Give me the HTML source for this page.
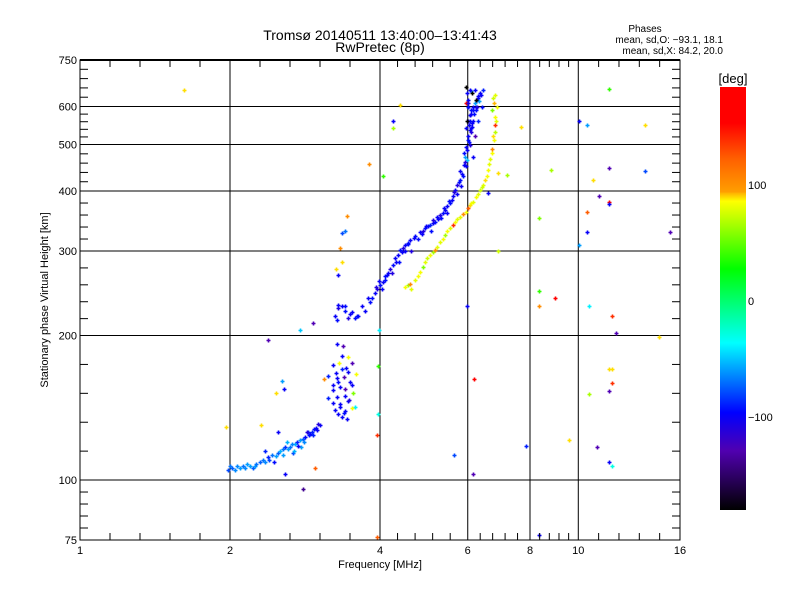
<!DOCTYPE html>
<html><head><meta charset="utf-8"><style>
html,body{margin:0;padding:0;background:#fff;}
svg{display:block;font-family:"Liberation Sans",sans-serif;}
</style></head><body>
<svg id="chart" width="800" height="600" viewBox="0 0 800 600" xmlns="http://www.w3.org/2000/svg">
<defs><linearGradient id="cb" x1="0" y1="0" x2="0" y2="1">
<stop offset="0" stop-color="#ff0000"/><stop offset="0.085" stop-color="#ff0000"/><stop offset="0.17" stop-color="#ff6000"/><stop offset="0.25" stop-color="#ffa000"/><stop offset="0.25" stop-color="#ffb000"/><stop offset="0.27" stop-color="#ffff00"/><stop offset="0.43" stop-color="#00ff00"/><stop offset="0.605" stop-color="#00ffff"/><stop offset="0.77" stop-color="#0000ff"/><stop offset="0.86" stop-color="#5000b0"/><stop offset="1" stop-color="#000000"/>
</linearGradient></defs>
<g id="grid"></g>
<g id="marks"></g>
<g id="axes"></g>
<text x="380" y="40" font-size="14" text-anchor="middle">Tromsø 20140511 13:40:00–13:41:43</text>
<text x="380" y="52" font-size="14" text-anchor="middle">RwPretec (8p)</text>
<text x="645" y="32" font-size="10" text-anchor="middle">Phases</text>
<text x="723" y="43" font-size="10" text-anchor="end">mean, sd,O: −93.1, 18.1</text>
<text x="723" y="54" font-size="10" text-anchor="end">mean, sd,X:  84.2, 20.0</text>
<text x="380" y="568" font-size="11" text-anchor="middle">Frequency [MHz]</text>
<text transform="translate(48,300) rotate(-90)" font-size="11" text-anchor="middle">Stationary phase Virtual Height [km]</text>
<rect x="720" y="87" width="26" height="423" fill="url(#cb)"/>
<text x="733" y="83" font-size="13" text-anchor="middle">[deg]</text>
<text x="748" y="189" font-size="11">100</text>
<text x="748" y="305" font-size="11">0</text>
<text x="748" y="421" font-size="11">−100</text>
</svg>
<script>
const xMajors=[1,2,4,6,8,10,16];
const xLabels=["1","2","4","6","8","10","16"];
const yMajors=[75,100,200,300,400,500,600,750];
const yLabels=["75","100","200","300","400","500","600","750"];
// E trace
const eFreq=[1.98,2.02,2.05,2.09,2.12,2.14,2.19,2.22,2.24,2.3,2.33,2.35,2.38,2.43,2.47,2.5,2.52,2.55,2.58,2.62,2.64,2.7,2.72,2.76,2.8,2.83,2.87,2.9,2.92,2.95,2.97,3.03,2.6,2.68,2.78,2.85,2.45,2.35,2.0,2.07,2.16,2.26,2.4,2.55,2.66,2.74,2.88,2.99,3.01,2.93,2.81,2.69];
const eHeight=[105,106,105,106,107,106,107,106,107,109,110,109,111.5,112.5,112,114,115,116,117,116,117,118.7,120,121,122,122.7,126,125,126,128,128.4,130,120,114,117,126,109,115,107,107,108,108,110,113,119,118,124,127,131,124,120,115];
const ePhase=[-80,-75,-65,-60,-70,-65,-60,-75,-60,-75,-70,-65,-90,-70,-60,-75,-55,-70,-85,-60,-70,-55,-90,-60,-75,-95,-85,-100,-90,-95,-100,-100,-55,-80,-60,-110,-95,-90,-70,-65,-60,-70,-80,-60,-65,-100,-95,-100,-110,-90,-65,-55];
// Es cluster
const sFreq=[3.28,3.37,3.45,3.36,3.22,3.31,3.51,3.58,3.45,3.39,3.28,3.14,3.09,3.22,3.51,3.33,3.4,3.22,3.14,3.53,3.28,3.45,3.22,3.33,3.56,3.25,3.4,3.51,3.36,3.3,3.42,3.35,3.48,3.3,3.4,3.47,3.32,3.38,3.44,3.26];
const sHeight=[192,190,180,181,174,175,175,166,168,164,163,165,162,158,158,156,155,154,148,152,149,146,145,142,142,140,139,141,135,137,171,170,160,160,150,147,144,138,134,167];
const sPhase=[-100,-130,90,-100,-100,90,-130,90,-100,-130,-100,-90,120,-100,-100,-100,-130,-100,-90,60,-100,-100,-100,-100,-40,-100,-100,90,-100,-100,-100,-90,-100,-95,-100,-110,-100,-95,-100,-100];
// O trace
const oFreq=[3.25,3.3,3.4,3.48,3.56,3.73,3.82,3.9,3.95,4.0,4.05,4.09,4.14,4.19,4.25,4.29,4.35,4.39,4.45,4.5,4.55,4.6,4.7,4.82,4.88,4.93,5.0,5.04,5.1,5.16,5.22,5.28,5.34,5.4,5.46,5.53,5.6,5.66,5.72,5.8,5.85,5.9,5.93,5.98,6.01,6.07,6.0,6.05,6.1,6.15,6.2,6.25,6.3,6.35,6.45,6.02,6.1,6.2,6.3,5.95,6.05,6.15,5.95,6.1,5.97,6.2,3.3,3.4,3.62,
3.28,3.35,3.45,3.52,3.6,3.68,3.78,3.86,3.93,3.98,4.03,4.1,4.16,4.22,4.3,4.36,4.42,4.48,4.56,4.62,4.68,4.76,4.85,4.95,5.06,5.12,5.2,5.3,5.38,5.45,5.5,5.58,5.63,5.7,5.76,5.82,5.78,5.88,5.92,5.96,5.9,5.96,6.0,6.04,6.08,6.12,6.18,6.24,6.28,6.33,6.38,6.42,6.0,6.03,6.07,6.12,6.16,6.22,6.27,5.98,6.02,6.06,6.1,6.14,6.0,6.05,6.12,6.22,5.94,5.99];
const oHeight=[220,228,225,222,218,225,235,245,250,255,258,261,267,275,280,290,295,301,305,309,312,316,322,328,331,335,338,340,343,345,350,356,360,365,372,378,390,402,412,422,435,453,470,487,510,536,560,575,590,600,610,620,630,640,650,620,645,650,560,540,500,470,610,580,465,520,232,230,220,
215,230,218,224,220,230,240,240,252,260,250,266,270,270,285,285,298,300,310,300,320,318,325,338,330,348,353,352,368,360,382,384,398,395,418,410,440,430,460,450,480,495,520,505,530,555,580,600,625,615,635,600,600,550,560,545,560,590,600,640,600,575,540,590,610,650,640,620,660,560,450,430];
const oPhase=[-100,-110,-95,-100,-95,-100,-95,-100,-110,-95,-100,-95,-100,-110,-95,-100,-100,-95,-110,-100,-95,-100,-95,-100,-110,-95,-100,-90,-100,-95,-100,-110,-95,-100,-100,-95,-100,-100,-110,-95,-100,-100,-60,-100,-95,-100,-110,-100,-95,-100,-60,-130,-100,-100,-90,-100,-60,-100,-90,-100,-110,-100,170,-100,-50,-130,-100,-95,-100,
-95,-100,-110,-100,-95,-100,-100,-95,-110,-100,-100,-95,-100,-110,-100,-95,-100,-100,-95,-110,-100,-95,-100,-100,-95,-110,-100,-95,-100,-100,-95,-100,-110,-100,-95,-100,-100,-95,-110,-100,-95,-100,-100,-95,-110,-100,-95,-100,-100,-60,-100,-95,-110,-100,-95,-100,-100,-95,-110,-100,-95,-100,-100,-95,-110,-100];
// X trace
const xFreq=[4.5,4.55,4.6,4.71,4.82,4.88,4.93,5.04,5.1,5.16,5.28,5.34,5.4,5.53,5.6,5.66,5.8,5.94,6.0,6.07,6.15,6.22,6.35,6.45,6.5,6.59,6.66,6.72,6.76,6.79,6.8,6.82,6.7,6.78,6.8,6.9,4.62,4.76,4.98,5.2,5.46,5.7,5.86,6.1,6.28,6.4,6.55,6.62,6.7,6.74,6.83,6.86,6.75];
const xHeight=[253,255,256,261,271,278,285,295,298,301,313,318,324,335,340,345,353,362,368,374,380,389,402,412,422,442,466,490,511,530,549,570,590,610,634,300,250,266,290,306,330,350,358,377,395,408,430,455,480,520,560,600,625];
const xPhase=[90,70,120,85,90,60,85,90,70,120,85,90,70,85,140,90,85,90,130,100,85,90,80,85,100,90,85,120,90,75,140,90,60,110,85,80,85,90,80,85,90,85,120,90,85,80,90,85,90,100,85,90,80];
// scattered points
const pFreq=[11.5,10.03,10.4,13.6,7.67,11.5,13.6,10.7,8.8,7.2,6.9,6.6,11.0,11.5,11.5,10.4,8.34,10.4,15.3,10.03,8.34,9.0,8.34,10.5,11.7,5.98,11.9,14.5,11.5,11.7,11.7,10.5,11.5,6.17,9.6,7.85,10.9,11.5,11.7,5.63,6.15,8.34,1.62,4.39,4.25,4.25,3.81,4.05,3.43,3.36,3.4,3.33,3.35,3.26,3.3,2.93,2.77,2.38,2.54,2.57,2.47,1.96,2.31,2.5,2.96,2.58,3.95,3.95,3.97,3.97,3.98,2.8];
const pHeight=[652,560,550,550,545,447,441,422,443,433,436,396,391,379,376,362,351,329,329,309,248,240,230,230,220,230,202,199,170,170,159,151,153,162,121,118,117,109,107,113,103,77,650,605,560,540,455,430,355,327,330,305,284,275,268,212,205,196,161,155,152,129,130,126,106,103,76,124,173,137,205,96];
const pPhase=[40,-100,-60,100,100,-130,-80,100,70,70,100,-100,-130,170,-100,130,60,-100,-130,-60,40,170,120,-40,140,-100,-130,100,100,100,140,70,-130,170,100,-90,-130,-100,-30,-80,-130,-100,100,100,-100,70,120,40,120,-80,-70,120,100,100,-100,-130,-50,-130,-60,-100,100,100,100,-100,130,-100,130,140,40,-30,-40,-140];

const NS='http://www.w3.org/2000/svg';
const L=80,R=680,T=60,B=540;
function xScale(f){return L+(R-L)*Math.log2(f)/4;}
function yScale(h){return B-(B-T)*Math.log10(h/75);}
function mk(tag,attrs,parent){const e=document.createElementNS(NS,tag);for(const k in attrs)e.setAttribute(k,attrs[k]);parent.appendChild(e);return e;}
const stops=[[180,[255,0,0]],[150,[255,0,0]],[120,[255,140,0]],[92,[255,255,0]],[28,[0,255,0]],[-37,[0,255,255]],[-97,[0,0,255]],[-130,[80,0,180]],[-180,[0,0,0]]];
function color(p){p=Math.max(-180,Math.min(180,p));for(let i=0;i<stops.length-1;i++){const a=stops[i],b=stops[i+1];if(p<=a[0]&&p>=b[0]){const t=(a[0]-p)/(a[0]-b[0]||1);const c=a[1].map((v,j)=>Math.round(v+(b[1][j]-v)*t));return 'rgb('+c.join(',')+')';}}return '#000';}
const grid=document.getElementById('grid'),axes=document.getElementById('axes'),marks=document.getElementById('marks');
xMajors.forEach((f,i)=>{const x=xScale(f);
 const g=mk('line',{x1:x,x2:x,y1:T,y2:B,stroke:'#000','stroke-width':1},grid);
 
 const t=mk('text',{x:x,y:554,'font-size':11,'text-anchor':'middle'},axes);t.textContent=xLabels[i];
 
 if(i<xMajors.length-1){const x2=xScale(xMajors[i+1]);for(let k=1;k<5;k++){const xx=x+(x2-x)*k/5;
  mk('line',{x1:xx,x2:xx,y1:B,y2:B-7,stroke:'#000'},axes);mk('line',{x1:xx,x2:xx,y1:T,y2:T+7,stroke:'#000'},axes);}}
});
yMajors.forEach((h,i)=>{const y=yScale(h);
 const g=mk('line',{x1:L,x2:R,y1:y,y2:y,stroke:'#000','stroke-width':1},grid);
 
 const t=mk('text',{x:77,y:y+4,'font-size':11,'text-anchor':'end'},axes);t.textContent=yLabels[i];
 
 if(i<yMajors.length-1){const y2=yScale(yMajors[i+1]);for(let k=1;k<5;k++){const yy=y+(y2-y)*k/5;
  mk('line',{x1:L,x2:L+8,y1:yy,y2:yy,stroke:'#000'},axes);mk('line',{x1:R,x2:R-8,y1:yy,y2:yy,stroke:'#000'},axes);}}
});
const frame=mk('rect',{x:L,y:T,width:R-L,height:B-T,fill:'none',stroke:'#000','stroke-width':1},axes);

mk('line',{x1:L,x2:R,y1:T,y2:T,stroke:'#000','stroke-width':2},axes);
function plot(fs,hs,ps,name){for(let i=0;i<fs.length;i++){const x=Math.round(xScale(fs[i]))+0.5,y=Math.round(yScale(hs[i]))+0.5;
 const p=mk('path',{d:'M'+(x-2)+' '+y+'h4M'+x+' '+(y-2)+'v4',stroke:color(ps[i]),'stroke-width':1.6,fill:'none'},marks);
 }}
plot(eFreq,eHeight,ePhase,'e-trace-point');
plot(sFreq,sHeight,sPhase,'es-cluster-point');
plot(oFreq,oHeight,oPhase,'o-trace-point');
plot(xFreq,xHeight,xPhase,'x-trace-point');
plot(pFreq,pHeight,pPhase,'scatter-point');
</script>
</body></html>
